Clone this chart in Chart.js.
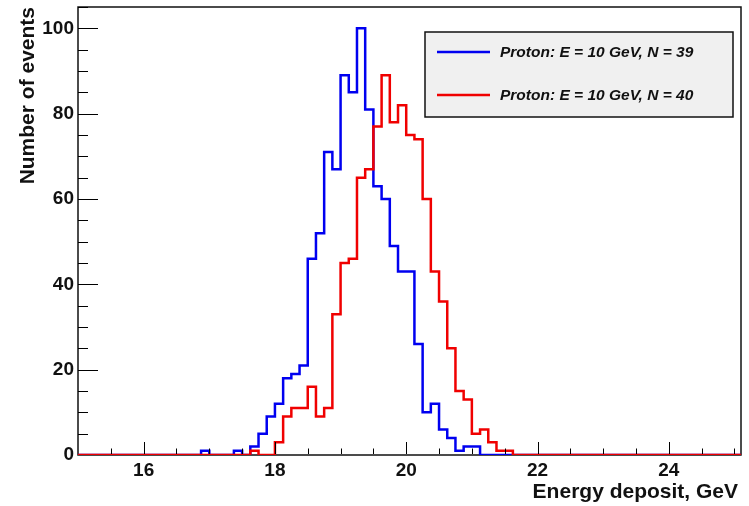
<!DOCTYPE html>
<html>
<head>
<meta charset="utf-8">
<script src="https://cdn.jsdelivr.net/npm/chart.js@4.4.1/dist/chart.umd.min.js"></script>
<style>
  html, body { margin: 0; padding: 0; background: #ffffff; }
  #wrap { width: 749px; height: 506px; }
</style>
</head>
<body>
<div id="wrap"><canvas id="c" width="749" height="506"></canvas></div>
<script>
// ---------------- DATA ----------------
// Histogram bin edges (GeV), bins of 0.125 GeV
const binEdges = [
  15, 15.125, 15.25, 15.375, 15.5, 15.625, 15.75, 15.875,
  16, 16.125, 16.25, 16.375, 16.5, 16.625, 16.75, 16.875,
  17, 17.125, 17.25, 17.375, 17.5, 17.625, 17.75, 17.875,
  18, 18.125, 18.25, 18.375, 18.5, 18.625, 18.75, 18.875,
  19, 19.125, 19.25, 19.375, 19.5, 19.625, 19.75, 19.875,
  20, 20.125, 20.25, 20.375, 20.5, 20.625, 20.75, 20.875,
  21, 21.125, 21.25, 21.375, 21.5, 21.625, 21.75, 21.875,
  22, 22.125, 22.25, 22.375, 22.5, 22.625, 22.75, 22.875,
  23, 23.125, 23.25, 23.375, 23.5, 23.625, 23.75, 23.875,
  24, 24.125, 24.25, 24.375, 24.5, 24.625, 24.75, 24.875,
  25, 25.125
];

// Proton: E = 10 GeV, N = 39  (blue)
const countsN39 = [
  0, 0, 0, 0, 0, 0, 0, 0,
  0, 0, 0, 0, 0, 0, 0, 1,
  0, 0, 0, 1, 0, 2, 5, 9,
  12, 18, 19, 21, 46, 52, 71, 67,
  89, 85, 100, 81, 63, 60, 49, 43,
  43, 26, 10, 12, 6, 4, 1, 2,
  2, 0, 0, 0, 0, 0, 0, 0,
  0, 0, 0, 0, 0, 0, 0, 0,
  0, 0, 0, 0, 0, 0, 0, 0,
  0, 0, 0, 0, 0, 0, 0, 0,
  0
];

// Proton: E = 10 GeV, N = 40  (red)
const countsN40 = [
  0, 0, 0, 0, 0, 0, 0, 0,
  0, 0, 0, 0, 0, 0, 0, 0,
  0, 0, 0, 0, 0, 1, 0, 0,
  3, 9, 11, 11, 16, 9, 11, 33,
  45, 46, 65, 67, 77, 89, 78, 82,
  75, 74, 60, 43, 36, 25, 15, 13,
  5, 6, 3, 1, 1, 0, 0, 0,
  0, 0, 0, 0, 0, 0, 0, 0,
  0, 0, 0, 0, 0, 0, 0, 0,
  0, 0, 0, 0, 0, 0, 0, 0,
  0
];

const seriesLabels = ['Proton: E = 10 GeV, N = 39', 'Proton: E = 10 GeV, N = 40'];
const xTickLabels = [16, 18, 20, 22, 24];
const yTickLabels = [0, 20, 40, 60, 80, 100];
const xAxisTitle = 'Energy deposit, GeV';
const yAxisTitle = 'Number of events';

// ---------------- HELPERS ----------------
function histPoints(counts) {
  const pts = counts.map((c, i) => ({ x: binEdges[i], y: c }));
  pts.push({ x: binEdges[binEdges.length - 1], y: counts[counts.length - 1] });
  return pts;
}

const FONT = "'Liberation Sans', Arial, Helvetica, sans-serif";
const BLUE = '#0000f0';
const RED = '#f00000';

// Frame (under the histograms) and inward ROOT-style ticks (over them)
const rootAxes = {
  id: 'rootAxes',
  beforeDatasetsDraw(chart) {
    const { ctx, chartArea: a } = chart;
    ctx.save();
    ctx.lineWidth = 1.5;
    ctx.strokeStyle = '#111';
    ctx.strokeRect(a.left, a.top, a.right - a.left, a.bottom - a.top);
    ctx.restore();
  },
  afterDatasetsDraw(chart) {
    const { ctx, chartArea: a, scales: { x, y } } = chart;
    ctx.save();
    ctx.strokeStyle = '#000';
    ctx.lineWidth = 1;
    ctx.beginPath();
    for (let k = 1; k <= 20; k++) {
      const v = 15 + k * 0.5;
      if (v >= x.max) continue;
      const px = Math.round(x.getPixelForValue(v)) + 0.5;
      const len = (v % 2 === 0) ? 13 : 6.5;
      ctx.moveTo(px, a.bottom - 1);
      ctx.lineTo(px, a.bottom - len);
    }
    for (let k = 1; k <= 21; k++) {
      const v = k * 5;
      const py = Math.round(y.getPixelForValue(v)) + 0.5;
      if (py < a.top) continue;
      const len = (v % 20 === 0) ? 20 : 10;
      ctx.moveTo(a.left, py);
      ctx.lineTo(a.left + len, py);
    }
    ctx.stroke();
    ctx.restore();
  }
};

// Axis titles (ROOT places them at the end of the axes) and legend box
const rootDecor = {
  id: 'rootDecor',
  afterDraw(chart) {
    const ctx = chart.ctx;
    const a = chart.chartArea;
    ctx.save();
    ctx.fillStyle = '#111';
    ctx.font = "bold 21px " + FONT;
    ctx.textBaseline = 'middle';
    ctx.textAlign = 'right';
    ctx.fillText(xAxisTitle, a.right - 3, 492);
    ctx.save();
    ctx.translate(28, a.top);
    ctx.rotate(-Math.PI / 2);
    ctx.textAlign = 'right';
    ctx.fillText(yAxisTitle, 0, 0);
    ctx.restore();

    const bx = 425, by = 32, bw = 308, bh = 85;
    ctx.fillStyle = '#f0f0f0';
    ctx.fillRect(bx, by, bw, bh);
    ctx.lineWidth = 1.5;
    ctx.strokeStyle = '#111';
    ctx.strokeRect(bx, by, bw, bh);
    [0, 1].forEach((di, i) => {
      const ds = chart.data.datasets[di];
      const yy = by + 20 + i * 43;
      ctx.strokeStyle = ds.borderColor;
      ctx.lineWidth = 2.5;
      ctx.beginPath();
      ctx.moveTo(437, yy);
      ctx.lineTo(490, yy);
      ctx.stroke();
      ctx.fillStyle = '#111';
      ctx.font = "italic bold 15.5px " + FONT;
      ctx.textBaseline = 'middle';
      ctx.textAlign = 'left';
      ctx.fillText(ds.label, 500, yy + 1);
    });
    ctx.restore();
  }
};

new Chart(document.getElementById('c').getContext('2d'), {
  type: 'line',
  data: {
    datasets: [
      {
        label: seriesLabels[0],
        data: histPoints(countsN39),
        borderColor: BLUE,
        borderWidth: 2.5,
        stepped: true,
        pointRadius: 0,
        fill: false,
        order: 1
      },
      {
        label: seriesLabels[1],
        data: histPoints(countsN40),
        borderColor: RED,
        borderWidth: 2.5,
        stepped: true,
        pointRadius: 0,
        fill: false,
        order: 0
      }
    ]
  },
  options: {
    responsive: false,
    animation: false,
    events: [],
    layout: { padding: { top: 7, right: 8, left: 0, bottom: 0 } },
    plugins: {
      legend: { display: false },
      tooltip: { enabled: false },
      title: { display: false }
    },
    scales: {
      x: {
        type: 'linear',
        min: 15,
        max: 25.1,
        afterBuildTicks: s => { s.ticks = xTickLabels.map(v => ({ value: v })); },
        afterFit: s => { s.height = 51; s.paddingLeft = 0; s.paddingRight = 0; },
        grid: { display: false, drawTicks: false },
        border: { display: false },
        ticks: {
          autoSkip: false,
          maxRotation: 0,
          padding: 4,
          color: '#111',
          font: { family: FONT, size: 19, weight: 'bold' }
        },
        title: { display: false }
      },
      y: {
        type: 'linear',
        min: 0,
        max: 105,
        afterBuildTicks: s => { s.ticks = yTickLabels.map(v => ({ value: v })); },
        afterFit: s => { s.width = 78; s.paddingTop = 0; s.paddingBottom = 0; },
        grid: { display: false, drawTicks: false },
        border: { display: false },
        ticks: {
          padding: 4,
          color: '#111',
          font: { family: FONT, size: 19, weight: 'bold' }
        },
        title: { display: false }
      }
    }
  },
  plugins: [rootAxes, rootDecor]
});
</script>
</body>
</html>
